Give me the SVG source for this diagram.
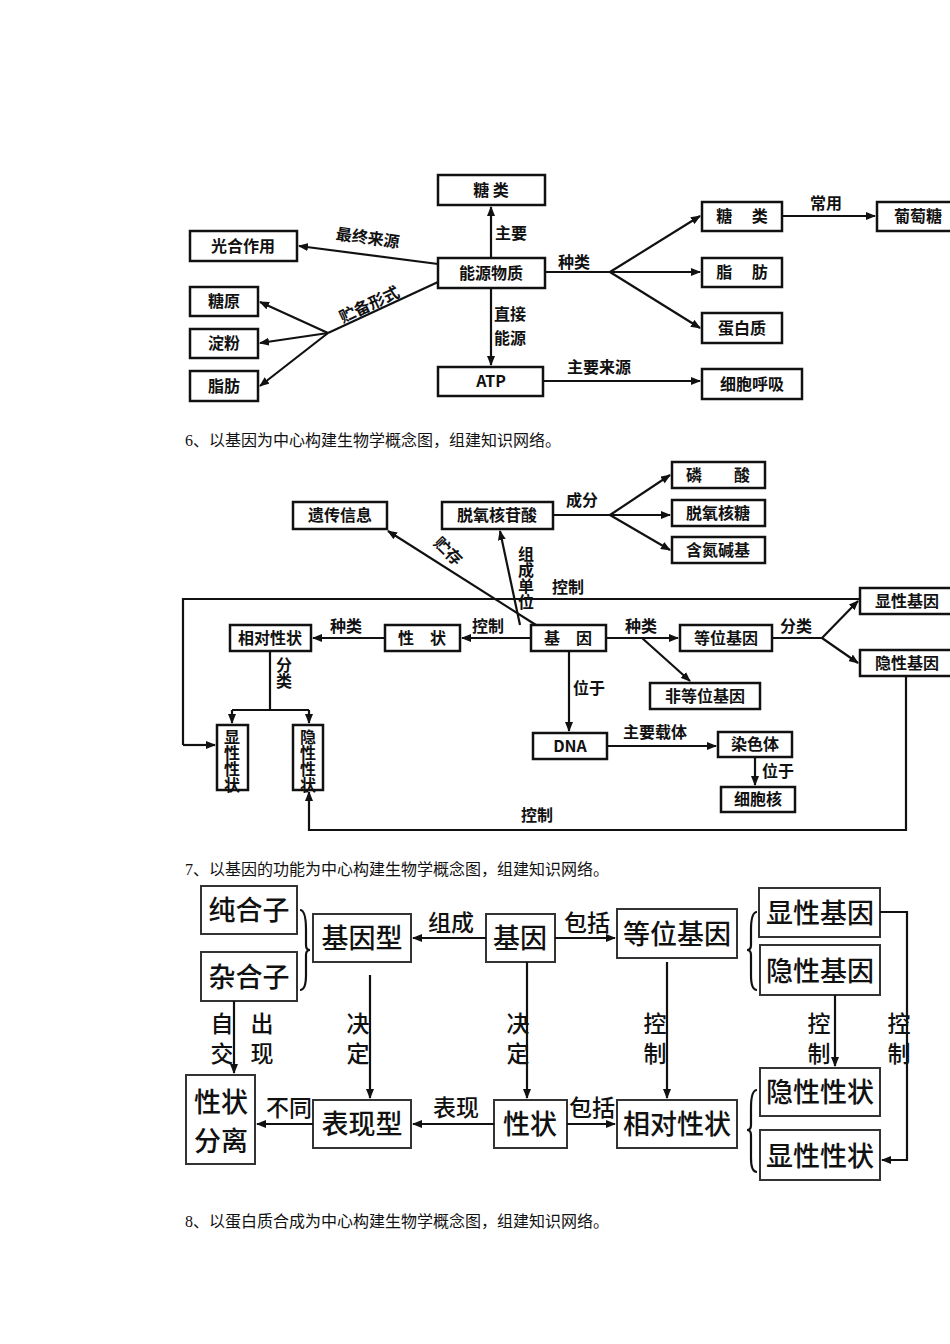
<svg xmlns="http://www.w3.org/2000/svg" width="950" height="1344" viewBox="0 0 950 1344">
<style>
text{font-family:"Noto Sans CJK SC","Noto Sans",sans-serif;fill:#111}
.n rect{fill:#fff;stroke:#111;stroke-width:2.5}
.n text{font-size:16px;font-weight:bold;text-anchor:middle}
.l{font-size:16px;font-weight:bold}
.v{writing-mode:vertical-rl}
.c path{fill:none;stroke:#111;stroke-width:2.2}
.a{marker-end:url(#ah)}
.h{font-family:"Liberation Serif","Noto Sans CJK SC",serif;font-size:16px}
.b rect{fill:#fff;stroke:#333;stroke-width:2}
.b text{font-size:27px;text-anchor:middle;font-weight:500}
.bl{font-size:23px;font-weight:500}
.bv{writing-mode:vertical-rl;letter-spacing:7px}
</style>
<defs><marker id="ah" markerWidth="10" markerHeight="8" refX="9" refY="4" orient="auto" markerUnits="userSpaceOnUse"><path d="M0,0 L10,4 L0,8 z" fill="#111"/></marker></defs>
<rect width="950" height="1344" fill="#fff"/>

<!-- Section 1 -->
<g class="n">
<g id="s1_tang"><rect x="438" y="175" width="107" height="30"/><text x="491" y="196">糖 类</text></g>
<g id="s1_gh"><rect x="190" y="231" width="107" height="30"/><text x="243" y="252">光合作用</text></g>
<g id="s1_ny"><rect x="438" y="258" width="107" height="30"/><text x="491" y="279">能源物质</text></g>
<g id="s1_ty"><rect x="190" y="287" width="68" height="29"/><text x="224" y="307">糖原</text></g>
<g id="s1_df"><rect x="190" y="329" width="68" height="29"/><text x="224" y="349">淀粉</text></g>
<g id="s1_zf"><rect x="190" y="371" width="68" height="30"/><text x="224" y="392">脂肪</text></g>
<g id="s1_atp"><rect x="438" y="367" width="105" height="29"/><text x="491" y="387">ATP</text></g>
<g id="s1_tang2"><rect x="702" y="202" width="80" height="29"/><text x="742" y="222">糖　 类</text></g>
<g id="s1_zf2"><rect x="702" y="258" width="80" height="29"/><text x="742" y="278">脂　 肪</text></g>
<g id="s1_dbz"><rect x="702" y="313" width="80" height="30"/><text x="742" y="334">蛋白质</text></g>
<g id="s1_hx"><rect x="702" y="369" width="100" height="30"/><text x="752" y="390">细胞呼吸</text></g>
<g id="s1_ptt"><rect x="877" y="202" width="90" height="29"/><text x="918" y="222">葡萄糖</text></g>
</g>
<g class="c">
<path class="a" d="M491,258 V207"/>
<path class="a" d="M438,264 L299,246"/>
<path d="M438,282 L328,333"/>
<path class="a" d="M328,333 L260,302"/>
<path class="a" d="M328,333 L260,343"/>
<path class="a" d="M328,333 L260,386"/>
<path class="a" d="M491,288 V365"/>
<path d="M545,272 H610"/>
<path class="a" d="M610,272 L700,216"/>
<path class="a" d="M610,272 H700"/>
<path class="a" d="M610,272 L700,328"/>
<path class="a" d="M782,216 H875"/>
<path class="a" d="M543,381 H700"/>
</g>
<text class="l" x="495" y="239">主要</text>
<text class="l" x="335" y="244" transform="rotate(8 370 244)">最终来源</text>
<text class="l" x="338" y="322" transform="rotate(-25 343 312)">贮备形式</text>
<text class="l" x="494" y="320">直接</text>
<text class="l" x="494" y="344">能源</text>
<text class="l" x="558" y="268">种类</text>
<text class="l" x="810" y="209">常用</text>
<text class="l" x="567" y="373">主要来源</text>

<text class="h" x="185" y="446">6、以基因为中心构建生物学概念图，组建知识网络。</text>

<!-- Section 2 -->
<g class="n">
<g id="s2_ls"><rect x="672" y="462" width="93" height="26"/><text x="718" y="481">磷　　酸</text></g>
<g id="s2_ycxx"><rect x="293" y="502" width="94" height="27"/><text x="340" y="521">遗传信息</text></g>
<g id="s2_tyhgs"><rect x="442" y="502" width="111" height="27"/><text x="497" y="521">脱氧核苷酸</text></g>
<g id="s2_tyht"><rect x="672" y="500" width="93" height="26"/><text x="718" y="519">脱氧核糖</text></g>
<g id="s2_hdjj"><rect x="672" y="537" width="93" height="26"/><text x="718" y="556">含氮碱基</text></g>
<g id="s2_xxjy"><rect x="860" y="588" width="95" height="26"/><text x="907" y="607">显性基因</text></g>
<g id="s2_xdxz"><rect x="230" y="625" width="81" height="26"/><text x="270" y="644">相对性状</text></g>
<g id="s2_xz"><rect x="385" y="625" width="75" height="26"/><text x="422" y="644">性　状</text></g>
<g id="s2_jy"><rect x="531" y="625" width="75" height="26"/><text x="568" y="644">基　因</text></g>
<g id="s2_dwjy"><rect x="680" y="625" width="92" height="26"/><text x="726" y="644">等位基因</text></g>
<g id="s2_yxjy"><rect x="860" y="650" width="95" height="26"/><text x="907" y="669">隐性基因</text></g>
<g id="s2_fdw"><rect x="650" y="683" width="110" height="26"/><text x="705" y="702">非等位基因</text></g>
<g id="s2_xxxz"><rect x="217" y="725" width="31" height="65"/><text class="v" x="232" y="729" font-size="14" style="text-anchor:start">显性性状</text></g>
<g id="s2_yxxz"><rect x="293" y="725" width="30" height="65"/><text class="v" x="308" y="729" font-size="14" style="text-anchor:start">隐性性状</text></g>
<g id="s2_dna"><rect x="533" y="733" width="74" height="26"/><text x="570" y="752" font-size="14">DNA</text></g>
<g id="s2_rst"><rect x="718" y="732" width="74" height="25"/><text x="755" y="750">染色体</text></g>
<g id="s2_xbh"><rect x="721" y="787" width="74" height="25"/><text x="758" y="805">细胞核</text></g>
</g>
<g class="c">
<path d="M553,515 H610"/>
<path class="a" d="M610,515 L670,475"/>
<path class="a" d="M610,515 H670"/>
<path class="a" d="M610,515 L670,550"/>
<path class="a" d="M536,625 L388,531"/>
<path class="a" d="M520,625 L500,531"/>
<path d="M183,745 V599 H860"/>
<path class="a" d="M183,745 H215"/>
<path class="a" d="M531,638 H462"/>
<path class="a" d="M385,638 H313"/>
<path d="M270,651 V710 M232,710 H309"/>
<path class="a" d="M232,710 V723"/>
<path class="a" d="M309,710 V723"/>
<path class="a" d="M606,638 H678"/>
<path class="a" d="M642,638 L690,681"/>
<path d="M772,638 H822"/>
<path class="a" d="M822,638 L858,601"/>
<path class="a" d="M822,638 L858,663"/>
<path class="a" d="M569,651 V731"/>
<path class="a" d="M607,746 H716"/>
<path class="a" d="M755,757 V785"/>
<path class="a" d="M906,676 V830 H309 V792"/>
</g>
<text class="l" x="432" y="556" transform="rotate(45 447 551)">贮存</text>
<text class="l v" x="526" y="546">组成单位</text>
<text class="l" x="552" y="593">控制</text>
<text class="l" x="566" y="506">成分</text>
<text class="l" x="472" y="632">控制</text>
<text class="l" x="330" y="632">种类</text>
<text class="l v" x="284" y="657">分类</text>
<text class="l" x="625" y="632">种类</text>
<text class="l" x="780" y="632">分类</text>
<text class="l" x="573" y="694">位于</text>
<text class="l" x="623" y="738">主要载体</text>
<text class="l" x="762" y="777">位于</text>
<text class="l" x="521" y="821">控制</text>

<text class="h" x="185" y="875">7、以基因的功能为中心构建生物学概念图，组建知识网络。</text>

<!-- Section 3 -->
<g class="b">
<g id="s3_chz"><rect x="201" y="886" width="96" height="48"/><text x="249" y="920">纯合子</text></g>
<g id="s3_jyx"><rect x="313" y="914" width="98" height="48"/><text x="362" y="948">基因型</text></g>
<g id="s3_jy"><rect x="486" y="914" width="69" height="48"/><text x="520" y="948">基因</text></g>
<g id="s3_dwjy"><rect x="617" y="909" width="120" height="49"/><text x="677" y="944">等位基因</text></g>
<g id="s3_xxjy"><rect x="759" y="888" width="121" height="49"/><text x="820" y="923">显性基因</text></g>
<g id="s3_zhz"><rect x="201" y="952" width="96" height="49"/><text x="249" y="987">杂合子</text></g>
<g id="s3_yxjy"><rect x="760" y="945" width="120" height="50"/><text x="820" y="981">隐性基因</text></g>
<g id="s3_xzfl"><rect x="186" y="1075" width="69" height="89"/><text x="221" y="1112">性状</text><text x="221" y="1151">分离</text></g>
<g id="s3_bxx"><rect x="313" y="1100" width="98" height="48"/><text x="362" y="1134">表现型</text></g>
<g id="s3_xz"><rect x="494" y="1100" width="73" height="48"/><text x="530" y="1134">性状</text></g>
<g id="s3_xdxz"><rect x="617" y="1100" width="120" height="48"/><text x="677" y="1134">相对性状</text></g>
<g id="s3_yxxz"><rect x="760" y="1068" width="120" height="48"/><text x="820" y="1102">隐性性状</text></g>
<g id="s3_xxxz"><rect x="760" y="1130" width="120" height="50"/><text x="820" y="1166">显性性状</text></g>
</g>
<g class="c">
<path d="M300,910 Q306,910 306,930 V945 Q306,950 310,950 Q306,950 306,955 V975 Q306,990 300,990" stroke-width="1.2"/>
<path d="M757,912 Q751,912 751,930 V945 Q751,950 747,950 Q751,950 751,955 V975 Q751,990 757,990" stroke-width="1.2"/>
<path d="M757,1090 Q751,1090 751,1108 V1125 Q751,1130 747,1130 Q751,1130 751,1135 V1158 Q751,1172 757,1172" stroke-width="1.2"/>
<path class="a" d="M486,938 H413"/>
<path class="a" d="M555,938 H615"/>
<path class="a" d="M370,975 V1098"/>
<path class="a" d="M527,962 V1098"/>
<path class="a" d="M667,962 V1098" stroke-width="1.5"/>
<path class="a" d="M835,995 V1066"/>
<path class="a" d="M880,912 H907 V1160 H882" stroke-width="1.5"/>
<path class="a" d="M234,1001 V1073"/>
<path class="a" d="M494,1124 H413"/>
<path class="a" d="M313,1124 H257"/>
<path class="a" d="M567,1124 H615"/>
</g>
<text class="bl" x="428" y="931">组成</text>
<text class="bl" x="564" y="931">包括</text>
<text class="bl bv" x="358" y="1012">决定</text>
<text class="bl bv" x="518" y="1012">决定</text>
<text class="bl bv" x="655" y="1012">控制</text>
<text class="bl bv" x="819" y="1012">控制</text>
<text class="bl bv" x="899" y="1012">控制</text>
<text class="bl bv" x="222" y="1012">自交</text>
<text class="bl bv" x="262" y="1012">出现</text>
<text class="bl" x="433" y="1116">表现</text>
<text class="bl" x="266" y="1116">不同</text>
<text class="bl" x="569" y="1116">包括</text>

<text class="h" x="185" y="1227">8、以蛋白质合成为中心构建生物学概念图，组建知识网络。</text>
</svg>
